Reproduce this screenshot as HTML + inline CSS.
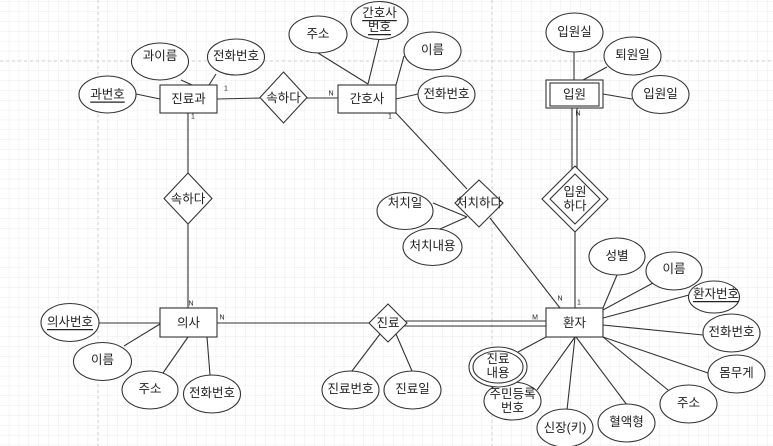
<!DOCTYPE html>
<html><head><meta charset="utf-8"><style>
html,body{margin:0;padding:0;background:#fff;}
svg{display:block;}
text{font-family:"Liberation Sans","Noto Sans CJK KR",sans-serif;font-size:12.5px;fill:#222;text-anchor:middle;dominant-baseline:central;}
.s{font-size:7px;}
</style></head><body>
<svg width="773" height="446" viewBox="0 0 773 446" xmlns="http://www.w3.org/2000/svg">
<defs>
<pattern id="g" width="9.85" height="9.85" patternUnits="userSpaceOnUse" x="-0.5" y="2">
<path d="M9.85 0V9.85M0 9.85H9.85" fill="none" stroke="#ebebeb" stroke-width="1"/>
</pattern>
</defs>
<rect width="773" height="446" fill="url(#g)"/>
<g stroke="#cfcfcf" stroke-dasharray="3,3" stroke-width="1">
<line x1="98" y1="0" x2="98" y2="446"/><line x1="492" y1="0" x2="492" y2="446"/>
<line x1="0" y1="61" x2="773" y2="61"/>
</g>
<g stroke="#333" stroke-width="1.1" fill="none">
<line x1="136" y1="94" x2="160" y2="99"/>
<line x1="181" y1="80" x2="192" y2="85"/>
<line x1="216" y1="74" x2="209" y2="85"/>
<line x1="217" y1="99" x2="260" y2="98"/>
<line x1="307" y1="98" x2="338" y2="98"/>
<line x1="318" y1="53" x2="368" y2="84"/>
<line x1="379" y1="39" x2="368" y2="84"/>
<line x1="404" y1="56" x2="396" y2="85"/>
<line x1="418" y1="94" x2="396" y2="99"/>
<line x1="396" y1="113" x2="467" y2="189"/>
<line x1="490" y1="218" x2="560" y2="308"/>
<line x1="433" y1="203" x2="467" y2="217"/>
<line x1="440" y1="229" x2="467" y2="217"/>
<line x1="188" y1="113" x2="188" y2="173"/>
<line x1="188" y1="224" x2="188" y2="308"/>
<line x1="99" y1="323" x2="160" y2="323"/>
<line x1="124" y1="346" x2="160" y2="324"/>
<line x1="163" y1="373" x2="188" y2="337"/>
<line x1="210" y1="375" x2="207" y2="337"/>
<line x1="217" y1="323" x2="370" y2="323"/>
<line x1="404" y1="321" x2="546" y2="321"/>
<line x1="404" y1="326" x2="546" y2="326"/>
<line x1="352" y1="371" x2="380" y2="334"/>
<line x1="412" y1="371" x2="396" y2="334"/>
<line x1="574" y1="52" x2="574" y2="80"/>
<line x1="607" y1="67" x2="583" y2="80"/>
<line x1="603" y1="94" x2="632" y2="99"/>
<line x1="572" y1="108" x2="572" y2="170"/>
<line x1="577" y1="108" x2="577" y2="170"/>
<line x1="575" y1="232" x2="575" y2="308"/>
<line x1="617" y1="275" x2="603" y2="308"/>
<line x1="653" y1="283" x2="603" y2="310"/>
<line x1="689" y1="295" x2="603" y2="318"/>
<line x1="703" y1="335" x2="603" y2="325"/>
<line x1="708" y1="373" x2="603" y2="337"/>
<line x1="668" y1="390" x2="603" y2="337"/>
<line x1="627" y1="405" x2="576" y2="337"/>
<line x1="567" y1="410" x2="575" y2="337"/>
<line x1="537" y1="390" x2="575" y2="337"/>
<line x1="518" y1="352" x2="546" y2="337"/>
</g>
<g stroke="#333" stroke-width="1.1" fill="#fff">
<rect x="160" y="85" width="57" height="28"/>
<rect x="338" y="85" width="58" height="28"/>
<rect x="160" y="308" width="57" height="29"/>
<rect x="546" y="308" width="57" height="29"/>
<rect x="546" y="80" width="57" height="28"/>
<rect x="550" y="83" width="49" height="23"/>
<polygon points="283.5,72 307,97.5 283.5,123 260,97.5"/>
<polygon points="188,173 212,198.5 188,224 164,198.5"/>
<polygon points="479,180 503,203 479,227 455,203"/>
<polygon points="388,304 407,323 388,342 369,323"/>
<polygon points="575,166 608,199 575,232 542,199"/>
<polygon points="575,174 600,199 575,224 550,199"/>
<ellipse cx="107.5" cy="94.5" rx="28.5" ry="18.5"/>
<ellipse cx="160" cy="61.5" rx="28.5" ry="18.5"/>
<ellipse cx="236" cy="57" rx="28.5" ry="18"/>
<ellipse cx="318" cy="34.5" rx="29" ry="18.5"/>
<ellipse cx="379.5" cy="20.5" rx="28.5" ry="19"/>
<ellipse cx="432.5" cy="51" rx="28.5" ry="19"/>
<ellipse cx="446.5" cy="94.5" rx="28.5" ry="18.5"/>
<ellipse cx="405" cy="211" rx="28" ry="18.5"/>
<ellipse cx="432.5" cy="247" rx="29.5" ry="18.5"/>
<ellipse cx="70" cy="322.5" rx="29" ry="19"/>
<ellipse cx="102.5" cy="361.5" rx="29" ry="19"/>
<ellipse cx="150" cy="390" rx="28" ry="19"/>
<ellipse cx="212" cy="394" rx="28.5" ry="19"/>
<ellipse cx="350.5" cy="390" rx="28.5" ry="19"/>
<ellipse cx="412.5" cy="390" rx="28.5" ry="19"/>
<ellipse cx="574.5" cy="32.5" rx="28.5" ry="19.5"/>
<ellipse cx="632.5" cy="56" rx="28.5" ry="19"/>
<ellipse cx="660.5" cy="94.5" rx="28.5" ry="19"/>
<ellipse cx="617" cy="256.5" rx="28" ry="18.5"/>
<ellipse cx="674" cy="271" rx="28" ry="19"/>
<ellipse cx="714" cy="297" rx="25.5" ry="16"/>
<ellipse cx="731.5" cy="333" rx="28.5" ry="19"/>
<ellipse cx="736.5" cy="374" rx="28.5" ry="19"/>
<ellipse cx="688.5" cy="404" rx="28.5" ry="19"/>
<ellipse cx="626.5" cy="423" rx="28.5" ry="19"/>
<ellipse cx="565" cy="428" rx="28" ry="19"/>
<ellipse cx="512.5" cy="401" rx="28.5" ry="19"/>
<ellipse cx="498" cy="367" rx="29" ry="20"/>
<ellipse cx="498" cy="367" rx="25" ry="16"/>
</g>
<g>
<text x="188.5" y="99">진료과</text>
<text x="367" y="99">간호사</text>
<text x="188.5" y="323">의사</text>
<text x="574.5" y="323">환자</text>
<text x="574.5" y="94.5">입원</text>
<text x="283.5" y="98">속하다</text>
<text x="188" y="199">속하다</text>
<text x="479" y="203">처치하다</text>
<text x="388" y="323">진료</text>
<text x="575" y="192">입원</text>
<text x="575" y="206">하다</text>
<text x="107.5" y="94.5" text-decoration="underline">과번호</text>
<text x="160" y="56">과이름</text>
<text x="236" y="56">전화번호</text>
<text x="318" y="34">주소</text>
<text x="379.5" y="13" text-decoration="underline">간호사</text>
<text x="379.5" y="27" text-decoration="underline">번호</text>
<text x="432.5" y="50">이름</text>
<text x="446.5" y="94">전화번호</text>
<text x="405" y="203">처치일</text>
<text x="432.5" y="246">처치내용</text>
<text x="70" y="322" text-decoration="underline">의사번호</text>
<text x="102.5" y="360">이름</text>
<text x="150" y="389">주소</text>
<text x="212" y="393">전화번호</text>
<text x="350.5" y="389">진료번호</text>
<text x="412.5" y="389">진료일</text>
<text x="574.5" y="32">입원실</text>
<text x="632.5" y="55">퇴원일</text>
<text x="660.5" y="94">입원일</text>
<text x="617" y="256">성별</text>
<text x="674" y="269">이름</text>
<text x="716" y="294" text-decoration="underline">환자번호</text>
<text x="731.5" y="332">전화번호</text>
<text x="736.5" y="373">몸무게</text>
<text x="688.5" y="403">주소</text>
<text x="626.5" y="422">혈액형</text>
<text x="565" y="428">신장(키)</text>
<text x="512.5" y="394">주민등록</text>
<text x="512.5" y="408">번호</text>
<text x="498" y="359">진료</text>
<text x="498" y="373">내용</text>
<text class="s" x="226" y="89">1</text>
<text class="s" x="331" y="94">N</text>
<text class="s" x="193" y="117">1</text>
<text class="s" x="390" y="117">1</text>
<text class="s" x="191" y="304">N</text>
<text class="s" x="222" y="318">N</text>
<text class="s" x="535" y="318">M</text>
<text class="s" x="560" y="299">N</text>
<text class="s" x="579" y="303">1</text>
<text class="s" x="578" y="114">N</text>
</g>
</svg>
</body></html>
